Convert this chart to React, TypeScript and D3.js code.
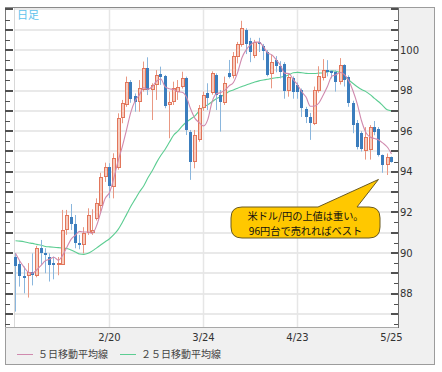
import React from 'react';
import { scaleLinear, scalePoint, line, range, curveMonotoneX } from 'd3';

// daily candles, 1/21 .. 5/25
const open = [
  89.82, 89.46, 88.88, 88.88, 89.05, 88.88, 90.26, 89.99, 89.82, 89.5,
  89.42, 89.41, 91.13, 91.76, 91.43, 90.48, 90.39, 90.97, 90.97, 91.66,
  92.3, 93.76, 94.25, 93.27, 94.17, 96.63, 97.29, 98.44, 97.73, 97.45,
  98.03, 99.1, 98.03, 98.28, 98.82, 98.72, 97.29, 97.45, 97.95, 98.19,
  98.6, 95.98, 94.5, 95.57, 97.13, 97.87, 97.87, 98.77, 97.78, 97.37,
  98.85, 98.7, 99.67, 100.25, 100.99, 100.45, 99.7, 100.41, 100.2, 99.92,
  98.82, 99.5, 99.2, 99.3, 98.0, 98.6, 98.3, 98.03, 97.1, 96.72,
  96.35, 98.0, 98.6, 99.0, 98.95, 98.93, 98.44, 99.26, 98.69, 97.37,
  96.4, 95.9, 95.0, 95.07, 96.22, 96.1, 94.83, 94.33, 94.71,
];
const high = [
  90.0, 89.62, 89.33, 89.5, 89.98, 90.35, 90.64, 90.23, 89.98, 89.82,
  89.8, 92.12, 92.12, 92.41, 91.87, 90.89, 91.27, 92.2, 92.15, 92.69,
  93.95, 94.45, 94.42, 94.91, 96.88, 97.54, 98.69, 98.52, 97.86, 98.52,
  99.43, 99.64, 98.36, 99.01, 99.18, 98.77, 97.95, 98.44, 98.52, 98.93,
  98.69, 96.06, 96.06, 97.29, 97.95, 98.36, 98.95, 98.85, 98.03, 98.69,
  99.51, 99.9, 100.4, 101.44, 101.07, 100.6, 100.5, 100.6, 100.3, 100.0,
  99.75, 99.7, 99.45, 99.4, 98.85, 98.7, 98.4, 98.1, 97.2, 96.9,
  98.2, 99.2, 99.55, 99.5, 99.0, 99.0, 99.6, 99.3, 98.75, 97.5,
  96.55, 96.0, 96.2, 96.3, 96.5, 96.2, 94.85, 94.9, 94.75,
];
const low = [
  87.11, 88.34, 88.01, 87.8, 88.4, 88.8, 89.41, 89.0, 88.59, 88.7,
  88.9, 89.41, 90.89, 91.13, 90.23, 90.18, 89.98, 90.89, 90.89, 91.6,
  92.03, 93.5, 92.7, 92.69, 94.1, 96.39, 97.2, 97.4, 96.96, 96.96,
  97.95, 97.78, 96.55, 97.54, 98.28, 97.13, 95.65, 97.29, 97.54, 98.1,
  95.81, 93.6, 94.17, 95.48, 97.0, 97.04, 97.8, 97.04, 95.98, 97.29,
  98.6, 98.6, 99.34, 100.16, 99.8, 99.4, 99.6, 99.9, 99.5, 98.7,
  98.11, 98.9, 98.6, 97.6, 97.7, 97.6, 97.6, 96.7, 96.4, 95.57,
  96.3, 97.9, 98.5, 98.7, 98.6, 97.95, 98.3, 98.2, 97.2, 95.9,
  95.1, 95.0, 94.6, 94.6, 95.8, 94.75, 93.95, 93.84, 94.45,
];
const close = [
  89.37, 88.88, 88.75, 89.08, 88.92, 90.23, 89.99, 89.9, 89.41, 89.42,
  89.5, 91.13, 91.87, 91.43, 90.48, 90.39, 90.97, 91.87, 91.13, 92.45,
  93.76, 94.25, 93.3, 94.66, 96.63, 97.37, 98.44, 97.59, 97.45, 98.11,
  99.1, 98.03, 98.28, 98.77, 98.69, 97.24, 97.45, 98.11, 98.19, 98.6,
  96.06, 94.5, 95.81, 97.13, 97.8, 97.62, 98.85, 97.78, 97.45, 98.36,
  98.69, 99.7, 100.3, 101.07, 100.3, 99.9, 100.4, 100.28, 99.95, 98.77,
  99.42, 99.2, 98.9, 98.0, 98.67, 97.95, 97.95, 97.13, 96.72, 96.38,
  98.03, 98.7, 99.0, 98.9, 98.85, 98.44, 99.26, 98.5, 97.37, 96.31,
  95.2, 95.1, 95.7, 96.22, 95.98, 94.83, 94.33, 94.75, 94.5,
];
const ma5 = [
  89.98, 89.6, 89.3, 89.05, 89.0, 89.17, 89.39, 89.62, 89.69, 89.79,
  89.64, 89.87, 90.27, 90.67, 90.87, 91.06, 91.03, 91.03, 90.97, 91.36,
  92.04, 92.69, 92.98, 93.68, 94.52, 95.24, 96.08, 96.94, 97.5, 97.79,
  98.14, 98.06, 98.19, 98.46, 98.57, 98.2, 98.09, 98.05, 97.94, 97.92,
  97.68, 97.09, 96.63, 96.42, 96.26, 96.57, 97.44, 97.84, 97.9, 98.01,
  98.23, 98.4, 98.9, 99.62, 100.01, 100.25, 100.39, 100.39, 100.17, 99.86,
  99.76, 99.52, 99.25, 98.86, 98.84, 98.54, 98.29, 97.94, 97.68, 97.23,
  97.24, 97.39, 97.77, 98.2, 98.7, 98.78, 98.89, 98.79, 98.48, 97.98,
  97.33, 96.5, 95.94, 95.71, 95.64, 95.57, 95.41, 95.22, 94.88,
];
const ma25 = [
  90.6, 90.58, 90.55, 90.5, 90.47, 90.42, 90.38, 90.32, 90.3, 90.28,
  90.26, 90.24, 90.22, 90.15, 90.05, 89.95, 89.93, 89.98, 90.1, 90.25,
  90.4, 90.55, 90.7, 90.9, 91.15, 91.5, 91.9, 92.3, 92.65, 93.0,
  93.3, 93.7, 94.05, 94.45, 94.8, 95.1, 95.45, 95.8, 96.0, 96.25,
  96.45, 96.6, 96.75, 97.0, 97.2, 97.3, 97.45, 97.6, 97.7, 97.82,
  97.95, 98.03, 98.12, 98.2, 98.28, 98.35, 98.42, 98.48, 98.52, 98.56,
  98.6, 98.63, 98.66, 98.7, 98.78, 98.88, 98.9, 98.88, 98.85, 98.84,
  98.84, 98.86, 98.88, 98.92, 98.98, 98.95, 98.88, 98.7, 98.52, 98.35,
  98.19, 98.05, 97.95, 97.8, 97.62, 97.45, 97.25, 97.05, 97.0,
];

const dateTickIndex = [22, 44, 66, 88];
const dateTickLabels = ['2/20', '3/24', '4/23', '5/25'];
const priceLabels = [88, 90, 92, 94, 96, 98, 100];
const legendNames = ['５日移動平均線', '２５日移動平均線'];
const calloutLines = ['米ドル/円の上値は重い。', '96円台で売れればベスト'];

const W = 442;
const H = 372;
const plotL = 14;
const plotR = 398;
const plotT = 8;
const plotB = 327;

const upStroke = '#e2765b';
const upFill = '#f7cbbd';
const upWick = '#e99883';
const downFill = '#3b7dbd';
const downWick = '#8ab6dd';
const ma5Color = '#d08aae';
const ma25Color = '#5ccd92';

const App = () => {
  const idx = range(close.length);
  const x = scalePoint<number>().domain(idx).range([15, 391]);
  const y = scaleLinear().domain([86.35, 102.07]).range([plotB, plotT]);

  const gridVals = range(87, 103, 1);
  const minorVals = range(86.5, 102.01, 0.5).filter(v => v % 1 !== 0);

  const maLine = line<number>()
    .x((d, i) => x(i)! + 0.5)
    .y(d => y(d))
    .curve(curveMonotoneX);

  const px = (v: number) => Math.round(y(v));

  // callout balloon, tail points at the last lows
  const bx0 = 231, bx1 = 380, by0 = 207, by1 = 238, r = 11;
  const tipX = x(86)! - 4;
  const tipY = y(93.62);
  const callout = [
    `M${bx0 + r},${by0}`,
    `L318,${by0}`,
    `L${tipX},${tipY}`,
    `L357,${by0}`,
    `L${bx1 - r},${by0}`,
    `Q${bx1},${by0} ${bx1},${by0 + r}`,
    `L${bx1},${by1 - r}`,
    `Q${bx1},${by1} ${bx1 - r},${by1}`,
    `L${bx0 + r},${by1}`,
    `Q${bx0},${by1} ${bx0},${by1 - r}`,
    `L${bx0},${by0 + r}`,
    `Q${bx0},${by0} ${bx0 + r},${by0}`,
    'Z',
  ].join(' ');

  return (
    <svg
      width={W}
      height={H}
      style={{ position: 'absolute', left: 0, top: 0, background: '#fff' }}
    >
      {/* frame */}
      <rect x={5.5} y={7.5} width={429} height={357} fill="#f0f0f0" stroke="#9c9c9c" />
      <rect x={6} y={plotT} width={plotR - 6} height={plotB - plotT} fill="#fff" />

      {/* grid */}
      {gridVals.map(v => (
        <line key={'g' + v} x1={plotL} x2={plotR} y1={px(v)} y2={px(v)} stroke="#e9e9e9" strokeWidth={2} />
      ))}
      {dateTickIndex.slice(0, 3).map(i => (
        <line
          key={'vg' + i}
          x1={Math.round(x(i)!) + 0.5}
          x2={Math.round(x(i)!) + 0.5}
          y1={plotT}
          y2={plotB}
          stroke="#e6e6e6"
          strokeWidth={1.5}
        />
      ))}
      <line x1={plotL + 0.5} x2={plotL + 0.5} y1={plotT} y2={plotB} stroke="#d8d8d8" />

      <path d={maLine(ma25) || ''} fill="none" stroke={ma25Color} strokeWidth={1.1} />

      {/* candles */}
      {idx.map(i => {
        const cx = Math.round(x(i)!);
        const up = close[i] >= open[i];
        const top = Math.round(y(Math.max(open[i], close[i])));
        const bot = Math.round(y(Math.min(open[i], close[i])));
        const h = Math.max(1, bot - top);
        return (
          <g key={'c' + i}>
            <line
              x1={cx + 0.5}
              x2={cx + 0.5}
              y1={y(high[i])}
              y2={y(low[i])}
              stroke={up ? upWick : downWick}
              strokeWidth={1}
            />
            {up ? (
              <rect x={cx - 0.5} y={top + 0.5} width={3} height={Math.max(0, h - 1)} fill={upFill} stroke={upStroke} strokeWidth={1} />
            ) : (
              <rect x={cx - 1} y={top} width={3} height={h} fill={downFill} />
            )}
          </g>
        );
      })}

      <path d={maLine(ma5) || ''} fill="none" stroke={ma5Color} strokeWidth={1.1} />

      {/* axes */}
      <line x1={5} x2={plotR} y1={plotB + 0.5} y2={plotB + 0.5} stroke="#a8a8a8" />
      <line x1={plotR + 0.5} x2={plotR + 0.5} y1={plotT} y2={plotB + 1} stroke="#6e6e6e" />
      <line x1={5.5} x2={5.5} y1={plotT} y2={plotB} stroke="#7a7a7a" />
      <line x1={5} x2={plotR} y1={7.5} y2={7.5} stroke="#8a8a8a" />

      {gridVals.map(v => (
        <g key={'t' + v}>
          <line x1={5} x2={13} y1={px(v)} y2={px(v)} stroke="#505050" strokeWidth={2} />
          <line x1={391} x2={plotR} y1={px(v)} y2={px(v)} stroke="#505050" strokeWidth={2} />
        </g>
      ))}
      {minorVals.map(v => (
        <g key={'m' + v}>
          <line x1={5} x2={10} y1={px(v) + 0.5} y2={px(v) + 0.5} stroke="#505050" />
          <line x1={394} x2={plotR} y1={px(v) + 0.5} y2={px(v) + 0.5} stroke="#505050" />
        </g>
      ))}

      <g fontFamily="'DejaVu Sans', Verdana, sans-serif" fontSize={10} fill="#333">
        {priceLabels.map(v => (
          <text key={'pl' + v} x={400} y={y(v)} dy="0.36em">
            {v}
          </text>
        ))}
        {dateTickIndex.map((i, k) => (
          <text key={'dl' + i} x={x(i)! + 0.5} y={341} textAnchor="middle">
            {dateTickLabels[k]}
          </text>
        ))}
      </g>

      <text x={17} y={19} fontFamily="'Noto Sans CJK JP', sans-serif" fontSize={11} fill="#5ec2ec">
        日足
      </text>

      {/* legend */}
      <g fontFamily="'Noto Sans CJK JP', sans-serif" fontSize={10} fill="#444">
        <line x1={17} x2={33} y1={354.5} y2={354.5} stroke={ma5Color} />
        <text x={38} y={358}>{legendNames[0]}</text>
        <line x1={120} x2={136} y1={354.5} y2={354.5} stroke={ma25Color} />
        <text x={141} y={358}>{legendNames[1]}</text>
      </g>

      {/* callout */}
      <path d={callout} fill="#ffc800" stroke="#6a5a20" strokeWidth={1} />
      <g fontFamily="'Noto Sans CJK JP', sans-serif" fontSize={10.2} fill="#111" textAnchor="middle">
        <text x={305.5} y={219.5}>{calloutLines[0]}</text>
        <text x={305.5} y={234.5}>{calloutLines[1]}</text>
      </g>
    </svg>
  );
};

export default App;
